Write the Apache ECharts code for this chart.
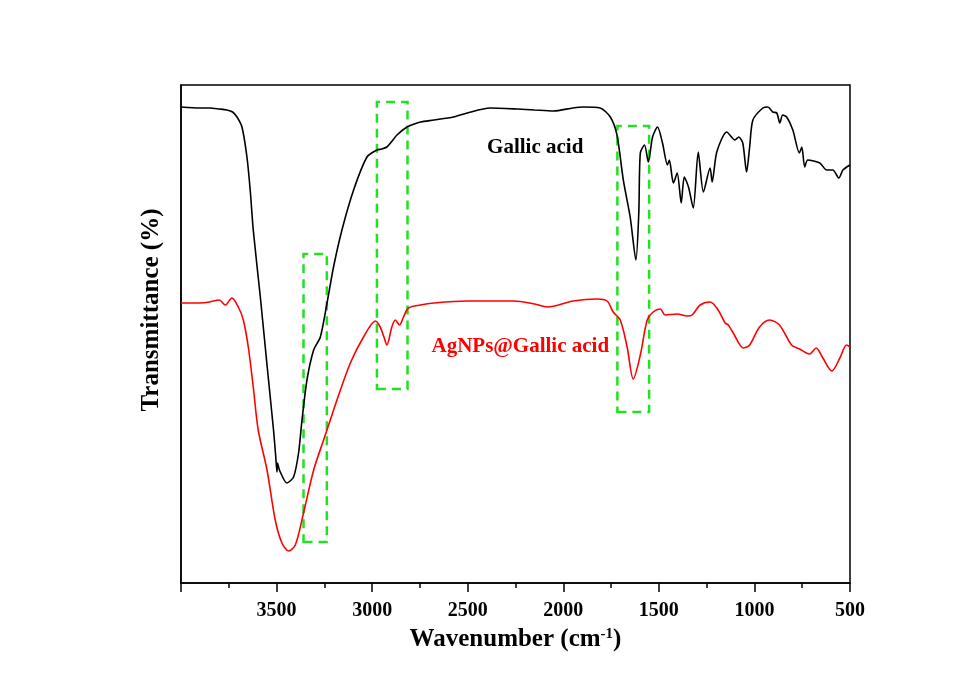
<!DOCTYPE html>
<html>
<head>
<meta charset="utf-8">
<script src="https://cdn.jsdelivr.net/npm/echarts@6/dist/echarts.min.js"></script>
<style>
  html, body { margin: 0; padding: 0; background: #fff; }
  #chart { width: 972px; height: 691px; }
</style>
</head>
<body>
<div id="chart"></div>
<script>
// wavenumber (cm-1) and transmittance (arb. units)
var gallicX = [4000,3900,3850,3800,3760,3730,3707,3681,3655,3638,3622,3585,3550,3516,3505,3498,3495,3485,3446,3411,3385,3367,3341,3306,3271,3236,3202,3158,3097,3027,2975,2950,2923,2900,2870,2818,2780,2748,2677,2575,2503,2383,2241,2150,2051,1950,1895,1807,1754,1719,1686,1650,1620,1605,1597,1575,1555,1533,1507,1481,1455,1445,1424,1404,1383,1367,1345,1320,1294,1267,1232,1221,1197,1145,1102,1082,1061,1041,1025,1008,956,930,904,883,867,852,831,799,765,752,737,721,658,622,590,558,537,500];
var gallicY = [476,475,475,474,473,471,466,456,426,393,353,286,218,153,128,111,120,113,100,106,130,163,203,233,246,280,316,353,393,426,433,434,436,441,448,456,459,461,463,466,470,475,474,473,472,475,476,475,466,448,403,366,323,370,430,438,421,446,456,440,418,423,400,410,380,406,396,375,431,391,415,401,431,451,443,446,440,411,436,463,475,476,471,470,460,468,466,453,430,436,416,423,420,413,413,405,413,418];

var agX = [4000,3900,3850,3800,3768,3734,3700,3674,3648,3622,3596,3550,3507,3472,3437,3402,3359,3306,3254,3219,3184,3114,3045,2982,2958,2940,2923,2897,2879,2857,2836,2810,2748,2677,2503,2262,2150,2084,1948,1823,1771,1739,1702,1666,1634,1597,1561,1530,1493,1467,1404,1352,1326,1284,1232,1190,1153,1137,1111,1058,1025,973,921,869,806,764,712,677,642,595,553,518,500];
var agY = [280,280,281,283,278,285,276,263,236,196,153,113,63,40,32,38,70,113,143,163,183,220,246,262,256,247,238,256,263,258,266,275,278,280,282,282,279,276,282,284,282,271,263,236,204,228,263,271,274,268,269,267,268,278,281,273,260,258,250,235,238,256,263,258,238,234,229,235,225,212,225,238,236];

// dashed highlight boxes: [wavenumber from, wavenumber to, low, high]
var boxes = [
  [3359, 3237, 41, 329],
  [2975, 2815, 194, 481],
  [1717, 1551, 171, 457]
];

var xTicks = [4000, 3500, 3000, 2500, 2000, 1500, 1000, 500];

function pairs(xs, ys){
  var out = [];
  for (var i = 0; i < xs.length; i++){
    out.push([xs[i], ys[i]]);
  }
  return out;
}

var serif = 'Liberation Serif';

var myChart = echarts.init(document.getElementById('chart'));
var option = {
  backgroundColor: '#fff',
  animation: false,
  grid: {
    left: 181, right: 122, top: 85, bottom: 108,
    show: true, borderColor: '#000', borderWidth: 1.5, backgroundColor: 'transparent'
  },
  xAxis: {
    type: 'value',
    inverse: true,
    min: 500, max: 4000, interval: 500,
    name: 'Wavenumber (cm{sup|-1})',
    nameLocation: 'middle',
    nameGap: 44,
    nameTextStyle: {
      fontFamily: serif, fontWeight: 'bold', fontSize: 25, color: '#000',
      rich: {
        sup: { fontFamily: serif, fontWeight: 'bold', fontSize: 15, color: '#000', padding: [0, 0, 10, 0] }
      }
    },
    axisLine: { show: true, lineStyle: { color: '#000', width: 1.5 } },
    axisTick: { show: true, inside: false, length: 9, lineStyle: { color: '#000', width: 1.5 } },
    minorTick: { show: true, splitNumber: 2, length: 5, lineStyle: { color: '#000', width: 1.5 } },
    splitLine: { show: false },
    axisLabel: {
      margin: 18,
      fontFamily: serif, fontWeight: 'bold', fontSize: 20, color: '#000',
      formatter: function(v){ return (v === xTicks[0]) ? '' : v; }
    }
  },
  yAxis: {
    type: 'value',
    min: 0, max: 498,
    axisLine: { show: true, lineStyle: { color: '#000', width: 1.5 } },
    axisTick: { show: false },
    axisLabel: { show: false },
    splitLine: { show: false }
  },
  graphic: [{
    type: 'text',
    x: 152, y: 310,
    rotation: Math.PI / 2,
    style: {
      text: 'Transmittance (%)',
      fontFamily: serif, fontWeight: 'bold', fontSize: 25, fill: '#000',
      align: 'center', verticalAlign: 'middle'
    }
  }],
  series: [
    {
      name: 'Gallic acid',
      type: 'line',
      data: pairs(gallicX, gallicY),
      showSymbol: false,
      smooth: 0.25,
      lineStyle: { color: '#000', width: 1.6 },
      z: 3,
      markPoint: {
        symbol: 'circle', symbolSize: 0,
        label: {
          show: true, position: 'inside',
          fontFamily: serif, fontWeight: 'bold', fontSize: 21, color: '#000',
          formatter: 'Gallic acid'
        },
        data: [{ coord: [2147, 435] }]
      }
    },
    {
      name: 'AgNPs@Gallic acid',
      type: 'line',
      data: pairs(agX, agY),
      showSymbol: false,
      smooth: 0.3,
      lineStyle: { color: '#ff0000', width: 1.6 },
      z: 3,
      markPoint: {
        symbol: 'circle', symbolSize: 0,
        label: {
          show: true, position: 'inside',
          fontFamily: serif, fontWeight: 'bold', fontSize: 21, color: '#ff0000',
          formatter: 'AgNPs@Gallic acid'
        },
        data: [{ coord: [2225, 236] }]
      },
      markArea: {
        silent: true,
        itemStyle: {
          color: 'transparent',
          borderColor: '#22e022',
          borderWidth: 2.5,
          borderType: [9, 6]
        },
        data: boxes.map(function(b){
          return [{ xAxis: b[0], yAxis: b[2] }, { xAxis: b[1], yAxis: b[3] }];
        })
      }
    }
  ]
};
myChart.setOption(option);
</script>
</body>
</html>
